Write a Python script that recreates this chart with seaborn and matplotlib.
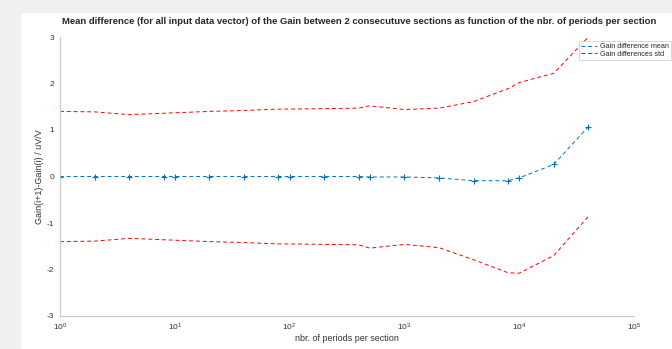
import matplotlib
matplotlib.use("Agg")
import matplotlib.pyplot as plt
from matplotlib.lines import Line2D
import seaborn as sns
import pandas as pd
import numpy as np

# periods per section and measured gain differences (uV/V)
periods = [1, 2, 4, 8, 10, 20, 40, 80, 100, 200, 400, 500, 1000, 2000, 4000, 8000, 10000, 20000, 40000]
gain_mean = [0, 0, 0, 0, 0, 0, 0, 0, 0, 0, 0, -0.01, -0.01, -0.03, -0.09, -0.09, -0.03, 0.26, 1.07]
gain_std = [1.40, 1.39, 1.33, 1.36, 1.37, 1.40, 1.42, 1.45, 1.45, 1.46, 1.47, 1.53, 1.45, 1.50, 1.70, 1.98, 2.05, 1.96, 1.93]

df = pd.DataFrame({"periods": periods, "mean": gain_mean, "std": gain_std})
df["upper"] = df["mean"] + df["std"]
df["lower"] = df["mean"] - df["std"]

sns.set_style("white")
plt.rcParams["font.family"] = ["Liberation Sans", "DejaVu Sans"]
plt.rcParams["axes.unicode_minus"] = False

fig = plt.figure(figsize=(6.72, 3.49), dpi=100)
# grey window strips like the screenshot
fig.patches.append(plt.Rectangle((0, 0), 20 / 672, 1, transform=fig.transFigure, color="#f0f0f0", zorder=-1))
fig.patches.append(plt.Rectangle((0, 1 - 12 / 349), 1, 12 / 349, transform=fig.transFigure, color="#f0f0f0", zorder=-1))

ax = fig.add_axes([60 / 672, 1 - 316 / 349, (634 - 60) / 672, (316 - 37) / 349])

blue = "#0072BD"
red = "#FF0000"
dash = (0, (4, 3))

sns.lineplot(data=df, x="periods", y="mean", ax=ax, color=blue, linestyle=dash, linewidth=0.7,
             marker="+", markersize=4.5, markeredgewidth=0.8, markeredgecolor=blue, legend=False)
sns.lineplot(data=df, x="periods", y="upper", ax=ax, color=red, linestyle=dash, linewidth=0.7, legend=False)
sns.lineplot(data=df, x="periods", y="lower", ax=ax, color=red, linestyle=dash, linewidth=0.7, legend=False)

ax.set_xscale("log")
ax.set_xlim(1, 1e5)
ax.set_ylim(-3, 3)
ax.set_yticks([-3, -2, -1, 0, 1, 2, 3])
ax.set_xticks([1, 10, 100, 1000, 10000, 100000])
ax.xaxis.set_minor_locator(matplotlib.ticker.NullLocator())

for s in ["top", "right"]:
    ax.spines[s].set_visible(False)
for s in ["left", "bottom"]:
    ax.spines[s].set_color("#c8c8c8")
    ax.spines[s].set_linewidth(0.8)
ax.tick_params(direction="in", length=4, width=0.6, color="#404040", labelsize=6, labelcolor="#333333", pad=4)

ax.set_xlabel("nbr. of periods per section", fontsize=6.5, color="#333333", labelpad=1)
ax.set_ylabel("Gain(i+1)-Gain(i) / uV/V", fontsize=6.5, color="#333333", labelpad=2)
ax.set_title("Mean difference (for all input data vector) of the Gain between 2 consecutuve sections as function of the nbr. of periods per section",
             fontsize=6.8, fontweight="bold", loc="left", x=(62 - 60) / (634 - 60), pad=9)

handles = [Line2D([], [], color=blue, linestyle=dash, linewidth=0.7),
           Line2D([], [], color=red, linestyle=dash, linewidth=0.7)]
labels = ["Gain difference mean", "Gain differences std"]
leg = fig.legend(handles, labels, loc="upper left", bbox_to_anchor=(579 / 672, 1 - 41 / 349),
                 fontsize=5.2, frameon=True, fancybox=False, borderpad=0.3, handlelength=2.2,
                 handletextpad=0.4, labelspacing=0.1, borderaxespad=0)
leg.get_frame().set_edgecolor("#c8c8c8")
leg.get_frame().set_linewidth(0.6)

fig.savefig("out.png", dpi=100)
